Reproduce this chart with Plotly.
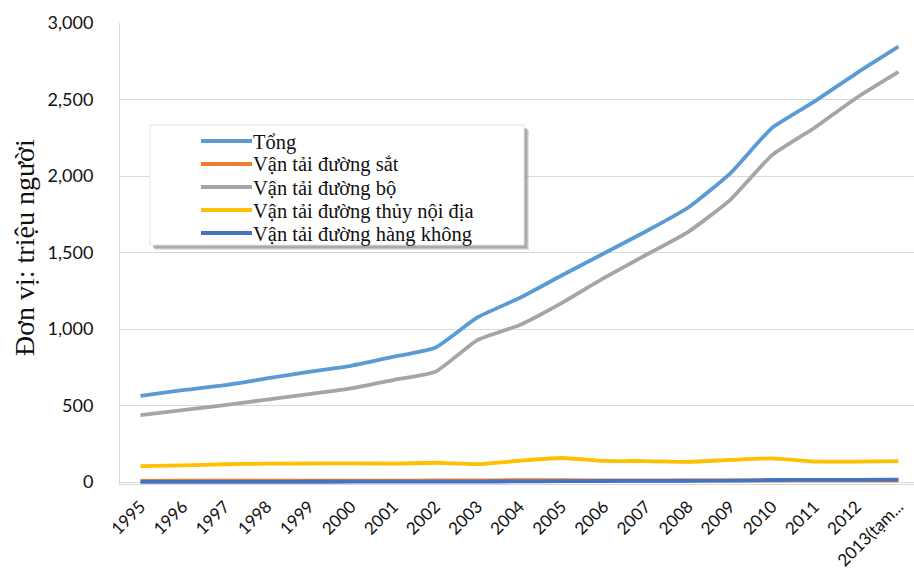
import plotly.graph_objects as go

# Passenger transport volume by mode, million people
years = ["1995", "1996", "1997", "1998", "1999", "2000", "2001", "2002", "2003",
         "2004", "2005", "2006", "2007", "2008", "2009", "2010", "2011", "2012",
         "2013(tạm..."]
tong = [564, 601, 634, 678, 721, 760, 819, 878, 1076, 1203, 1350, 1494, 1638,
        1793, 2016, 2315, 2486, 2671, 2845]
duong_sat = [8.8, 9.2, 9.3, 9.7, 9.3, 9.8, 10.6, 10.8, 11.6, 12.9, 12.8, 11.6,
             11.6, 11.3, 11.1, 11.2, 11.9, 12.2, 12.0]
duong_bo = [438, 471, 503, 540, 575, 612, 667, 721, 928, 1026, 1170, 1333, 1484,
            1634, 1843, 2137, 2314, 2510, 2680]
thuy_noi_dia = [105, 110, 117, 121, 122, 123, 121, 127, 118, 140, 158, 139, 138,
                133, 145, 156, 135, 134, 137]
hang_khong = [2.1, 2.1, 2.4, 2.4, 2.7, 2.9, 3.4, 4.0, 4.0, 5.0, 6.5, 7.6, 8.6,
              9.3, 10.4, 14.2, 14.6, 15.4, 17.1]

series_names = ["Tổng", "Vận tải đường sắt", "Vận tải đường bộ",
                "Vận tải đường thủy nội địa", "Vận tải đường hàng không"]
series_values = [tong, duong_sat, duong_bo, thuy_noi_dia, hang_khong]
series_colors = ["#5B9BD5", "#ED7D31", "#A5A5A5", "#FFC000", "#4472C4"]

y_ticks = [0, 500, 1000, 1500, 2000, 2500, 3000]

W, H = 914, 572
ML, MR, MT, MB = 120, 0, 23, 88


def pxx(x):
    return (x - ML) / (W - ML - MR)


def pxy(y):
    return (H - MB - y) / (H - MT - MB)


fig = go.Figure()
for name, vals, col in zip(series_names, series_values, series_colors):
    fig.add_trace(go.Scatter(
        x=years, y=vals, name=name, mode="lines",
        line=dict(color=col, width=3.8, shape="spline", smoothing=0.5),
        showlegend=False,
    ))

shapes = []
annotations = []

# legend box with soft drop shadow
for off, op in [(5, 0.25), (4, 0.35), (3, 0.45)]:
    shapes.append(dict(type="rect", xref="paper", yref="paper",
                       x0=pxx(150 + off), x1=pxx(524 + off),
                       y0=pxy(125 + off), y1=pxy(245 + off),
                       fillcolor="#8c8c8c", opacity=op, line=dict(width=0),
                       layer="above"))
shapes.append(dict(type="rect", xref="paper", yref="paper",
                   x0=pxx(150), x1=pxx(524), y0=pxy(125), y1=pxy(245),
                   fillcolor="white", line=dict(color="#e3e3e3", width=1),
                   layer="above"))
row_y = [141, 164, 187, 210, 233]
for name, col, ry in zip(series_names, series_colors, row_y):
    shapes.append(dict(type="line", xref="paper", yref="paper",
                       x0=pxx(201), x1=pxx(252), y0=pxy(ry), y1=pxy(ry),
                       line=dict(color=col, width=3.8), layer="above"))
    annotations.append(dict(xref="paper", yref="paper", x=pxx(251), y=pxy(ry + 1),
                            xanchor="left", yanchor="middle", showarrow=False,
                            text=name,
                            font=dict(family="Liberation Serif", size=20.5,
                                      color="#111111")))

# y-axis title
annotations.append(dict(xref="paper", yref="paper", x=pxx(24), y=pxy(248),
                        xanchor="center", yanchor="middle", showarrow=False,
                        textangle=-90, text="Đơn vị: triệu người",
                        font=dict(family="Liberation Serif", size=28,
                                  color="#111111")))

fig.update_layout(
    width=W, height=H,
    margin=dict(l=ML, r=MR, t=MT, b=MB, autoexpand=False),
    paper_bgcolor="white", plot_bgcolor="white",
    shapes=shapes, annotations=annotations,
    xaxis=dict(type="category", range=[-0.487, 18.37], tickangle=-45,
               showgrid=False, showline=True, linecolor="#d9d9d9", linewidth=1,
               ticks="", ticklabelstandoff=5, automargin=False,
               tickfont=dict(family="Lato", size=17, color="#111111"),
               zeroline=False),
    yaxis=dict(range=[-12, 3000], tickvals=y_ticks, tickformat=",d",
               showgrid=True, gridcolor="#d9d9d9", gridwidth=1,
               showline=True, linecolor="#d9d9d9", linewidth=1, automargin=False,
               zeroline=False, ticks="", ticklabelstandoff=22,
               tickfont=dict(family="Lato", size=18, color="#111111")),
)

fig.write_html("out.html")
